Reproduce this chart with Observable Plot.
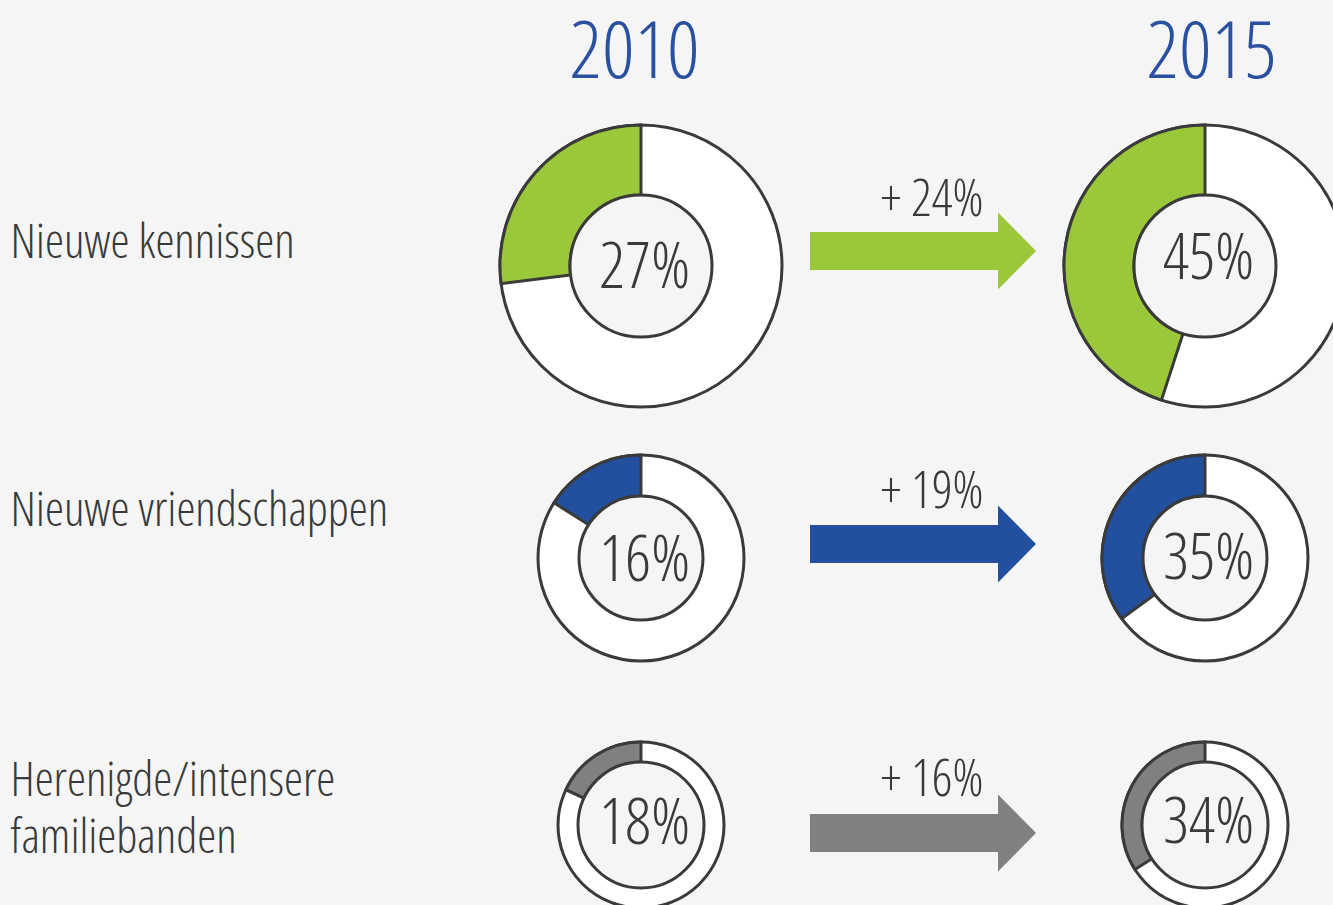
<!DOCTYPE html>
<html>
<head>
<meta charset="utf-8">
<script src="https://cdn.jsdelivr.net/npm/d3@7"></script>
<script src="https://cdn.jsdelivr.net/npm/@observablehq/plot@0.6"></script>
<style>
  html, body { margin: 0; padding: 0; background: #f5f5f5; overflow: hidden; }
  #chart svg text { font-family: 'Open Sans', sans-serif; font-weight: 300; font-stretch: condensed; }
</style>
</head>
<body>
<div id="chart"></div>
<script>
// ---------- data ----------
const categories = ["Nieuwe kennissen", "Nieuwe vriendschappen", "Herenigde/intensere\nfamiliebanden"];
const years = ["2010", "2015"];
const share2010 = [27, 16, 18];
const share2015 = [45, 35, 34];
const increase = [24, 19, 16];
const seriesColors = ["#9bc83b", "#234f9f", "#808080"];

// ---------- layout (pixels) ----------
const W = 1333, H = 905;
const rowY = [266, 558, 825];
const colX = [641, 1205];
const outerR = [141, 103, 83];
const innerR = [71, 62, 63];
const pctBaseline = [[287, 278], [580, 578], [843, 842]];
const labelBaseline = [[257], [525], [795, 852]];
const arrowY = [251, 544, 833];
const arrowLabelBaseline = [215, 507, 795];
const arrowX = {start: 810, neck: 998, tip: 1036, shaft: 38, head: 77};
const ink = "#3a3a3a";
const yearColor = "#2a51a1";

// ---------- derived tables ----------
const donuts = categories.flatMap((c, i) => years.map((yr, j) => ({
  category: c, year: yr,
  value: (j === 0 ? share2010 : share2015)[i],
  color: seriesColors[i],
  cx: colX[j], cy: rowY[i], r0: innerR[i], r1: outerR[i],
  ty: pctBaseline[i][j]
})));
const arrows = categories.map((c, i) => ({
  category: c, delta: increase[i], color: seriesColors[i],
  y: arrowY[i], ty: arrowLabelBaseline[i]
}));
const labelLines = categories.flatMap((c, i) =>
  c.split("\n").map((line, k) => ({line, y: labelBaseline[i][k]})));
const yearLabels = years.map((yr, j) => ({year: yr, x: [634, 1211][j], y: 77}));

// custom donut mark (positions go through Plot's x/y scales)
function donutMark(data) {
  return (index, scales) => {
    const g = d3.create("svg:g");
    const k = Math.abs(scales.x(1) - scales.x(0));
    for (const d of data) {
      const cx = scales.x(d.cx), cy = scales.y(d.cy);
      const gg = g.append("g").attr("transform", `translate(${cx},${cy})`);
      gg.append("circle").attr("r", d.r1 * k).attr("fill", "#ffffff")
        .attr("stroke", ink).attr("stroke-width", 3);
      // wedge, counter-clockwise from 12 o'clock
      const arc = d3.arc().innerRadius(d.r0 * k).outerRadius(d.r1 * k)
        .startAngle(-d.value / 100 * 2 * Math.PI).endAngle(0);
      gg.append("path").attr("d", arc()).attr("fill", d.color)
        .attr("stroke", ink).attr("stroke-width", 3);
      gg.append("circle").attr("r", d.r0 * k).attr("fill", "#f5f5f5")
        .attr("stroke", ink).attr("stroke-width", 3);
    }
    return g.node();
  };
}

function arrowMark(data) {
  return (index, scales) => {
    const g = d3.create("svg:g");
    for (const d of data) {
      const x0 = scales.x(arrowX.start), xn = scales.x(arrowX.neck), xt = scales.x(arrowX.tip);
      const yc = scales.y(d.y);
      const hs = arrowX.shaft / 2, hh = arrowX.head / 2;
      const p = d3.path();
      p.moveTo(x0, yc - hs); p.lineTo(xn, yc - hs); p.lineTo(xn, yc - hh);
      p.lineTo(xt, yc); p.lineTo(xn, yc + hh); p.lineTo(xn, yc + hs);
      p.lineTo(x0, yc + hs); p.closePath();
      g.append("path").attr("d", p.toString()).attr("fill", d.color);
    }
    return g.node();
  };
}

const chart = Plot.plot({
  width: W, height: H, margin: 0,
  x: {domain: [0, W], range: [0, W], axis: null},
  y: {domain: [0, H], range: [0, H], axis: null},
  style: {background: "#f5f5f5", overflow: "hidden"},
  marks: [
    donutMark(donuts),
    arrowMark(arrows),
    Plot.text(yearLabels, {x: "x", y: "y", text: "year", fontSize: 80, fill: yearColor,
      textAnchor: "middle", lineAnchor: "bottom"}),
    Plot.text(labelLines, {x: 10, y: "y", text: "line", fontSize: 48, fill: ink,
      textAnchor: "start", lineAnchor: "bottom"}),
    Plot.text(donuts, {x: d => d.cx + 3, y: "ty", text: d => `${d.value}%`, fontSize: 64, fill: ink,
      textAnchor: "middle", lineAnchor: "bottom"}),
    Plot.text(arrows, {x: 983, y: "ty", text: d => `+ ${d.delta}%`, fontSize: 51, fill: ink,
      textAnchor: "end", lineAnchor: "bottom"})
  ]
});
document.getElementById("chart").appendChild(chart);
</script>
</body>
</html>
